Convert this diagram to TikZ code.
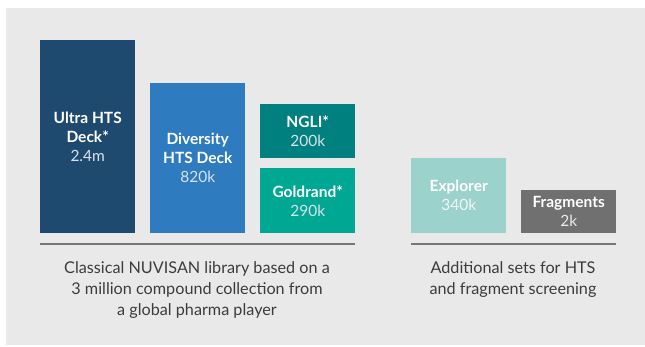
\documentclass[tikz,border=0pt]{standalone}
\usepackage{fontspec}
\setmainfont{Lato}
\begin{document}
\begin{tikzpicture}[x=1pt,y=-1pt,
  box/.style={draw=none,anchor=north west,inner sep=0pt,align=center,text=white,
    font=\fontsize{15.5}{19}\selectfont},
  rule/.style={draw=rulec,line width=1.8pt},
  caption/.style={align=center,text=capc,font=\fontsize{16.2}{21}\selectfont}]
\definecolor{bgc}{HTML}{E9E9E9}
\definecolor{valc}{HTML}{D8E2EC}
\definecolor{rulec}{HTML}{777777}
\definecolor{capc}{HTML}{3C3C3C}
\definecolor{c1}{HTML}{1F4A70}
\definecolor{c2}{HTML}{2E7BBF}
\definecolor{c3}{HTML}{00817F}
\definecolor{c4}{HTML}{00A894}
\definecolor{c5}{HTML}{9BD2CC}
\definecolor{c6}{HTML}{707070}
\useasboundingbox (0,0) rectangle (645,346);
\fill[bgc] (6,8) rectangle (645,345);
\node[box,fill=c1,minimum width=95pt,minimum height=193pt] (ultra) at (40,40)
  {\textbf{Ultra HTS}\\\textbf{Deck*}\\{\color{valc}2.4m}};
\node[box,fill=c2,minimum width=95pt,minimum height=150pt] (div) at (150,83)
  {\textbf{Diversity}\\\textbf{HTS Deck}\\{\color{valc}820k}};
\node[box,fill=c3,minimum width=95pt,minimum height=54pt] (ngli) at (260,104)
  {\textbf{NGLI*}\\{\color{valc}200k}};
\node[box,fill=c4,minimum width=95pt,minimum height=65pt] (gold) at (260,168)
  {\textbf{Goldrand*}\\{\color{valc}290k}};
\node[box,fill=c5,minimum width=95pt,minimum height=75pt] (expl) at (411,158)
  {\textbf{Explorer}\\{\color{white!85!c5}340k}};
\node[box,fill=c6,minimum width=95pt,minimum height=43pt] (frag) at (521,190)
  {\textbf{Fragments}\\{\color{white!85!c6}2k}};
\coordinate (l1a) at (40,244);
\coordinate (l1b) at (355,244);
\coordinate (l2a) at (411,244);
\coordinate (l2b) at (616,244);
\draw[rule] (l1a) -- (l1b);
\draw[rule] (l2a) -- (l2b);
\node[caption,anchor=north] (cap1) at (197,258)
  {Classical NUVISAN library based on a\\3 million compound collection from\\a global pharma player};
\node[caption,anchor=north] (cap2) at (513,258)
  {Additional sets for HTS\\and fragment screening};
\end{tikzpicture}
\end{document}
